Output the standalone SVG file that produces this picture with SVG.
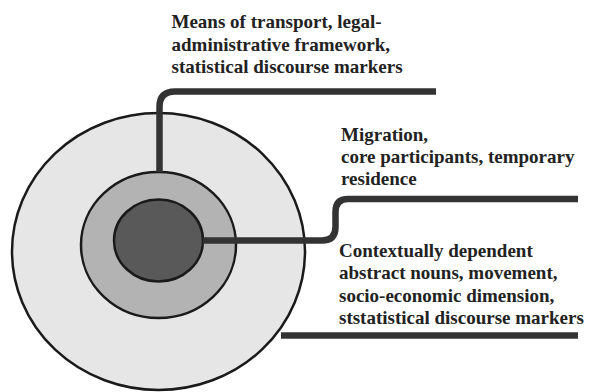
<svg xmlns="http://www.w3.org/2000/svg" width="592" height="392" viewBox="0 0 592 392">
  <style>
    .ring { stroke: #1a1a1a; stroke-width: 2.5; }
    .lead { fill: none; stroke: #333333; stroke-width: 6.5; stroke-linejoin: round; }
    .label { font-family: "Liberation Serif", "Times New Roman", serif; font-weight: bold; font-size: 19px; fill: #222222; }
  </style>
  <rect width="592" height="392" fill="#ffffff"/>

  <!-- concentric layers -->
  <g id="outer-layer">
    <ellipse class="ring" cx="158.5" cy="251.5" rx="146.5" ry="138.5" fill="#e6e6e6"/>
  </g>
  <g id="middle-layer">
    <ellipse class="ring" cx="158.5" cy="245" rx="77.5" ry="73" fill="#b3b3b3"/>
  </g>
  <g id="core">
    <ellipse class="ring" cx="158.5" cy="240.5" rx="44.5" ry="41" fill="#595959"/>
  </g>

  <!-- leader lines from each layer to its label -->
  <g id="connectors">
    <path class="lead" d="M159.5,172 V107 Q159.5,91.5 175,91.5 H436"/>
    <path class="lead" d="M203,240.5 H322 Q335.5,240.5 335.5,227 V212 Q335.5,199 348,199 H578"/>
    <path class="lead" d="M281,335.5 H578"/>
  </g>

  <g id="label-outer">
    <text class="label" x="171.5" y="28">Means of transport, legal-</text>
    <text class="label" x="171.5" y="51">administrative framework,</text>
    <text class="label" x="171.5" y="73">statistical discourse markers</text>
  </g>
  <g id="label-core">
    <text class="label" x="341" y="141">Migration,</text>
    <text class="label" x="341" y="163">core participants, temporary</text>
    <text class="label" x="341" y="185">residence</text>
  </g>
  <g id="label-middle">
    <text class="label" x="339" y="257">Contextually dependent</text>
    <text class="label" x="339" y="279">abstract nouns, movement,</text>
    <text class="label" x="339" y="302">socio-economic dimension,</text>
    <text class="label" x="339" y="324">ststatistical discourse markers</text>
  </g>
</svg>
